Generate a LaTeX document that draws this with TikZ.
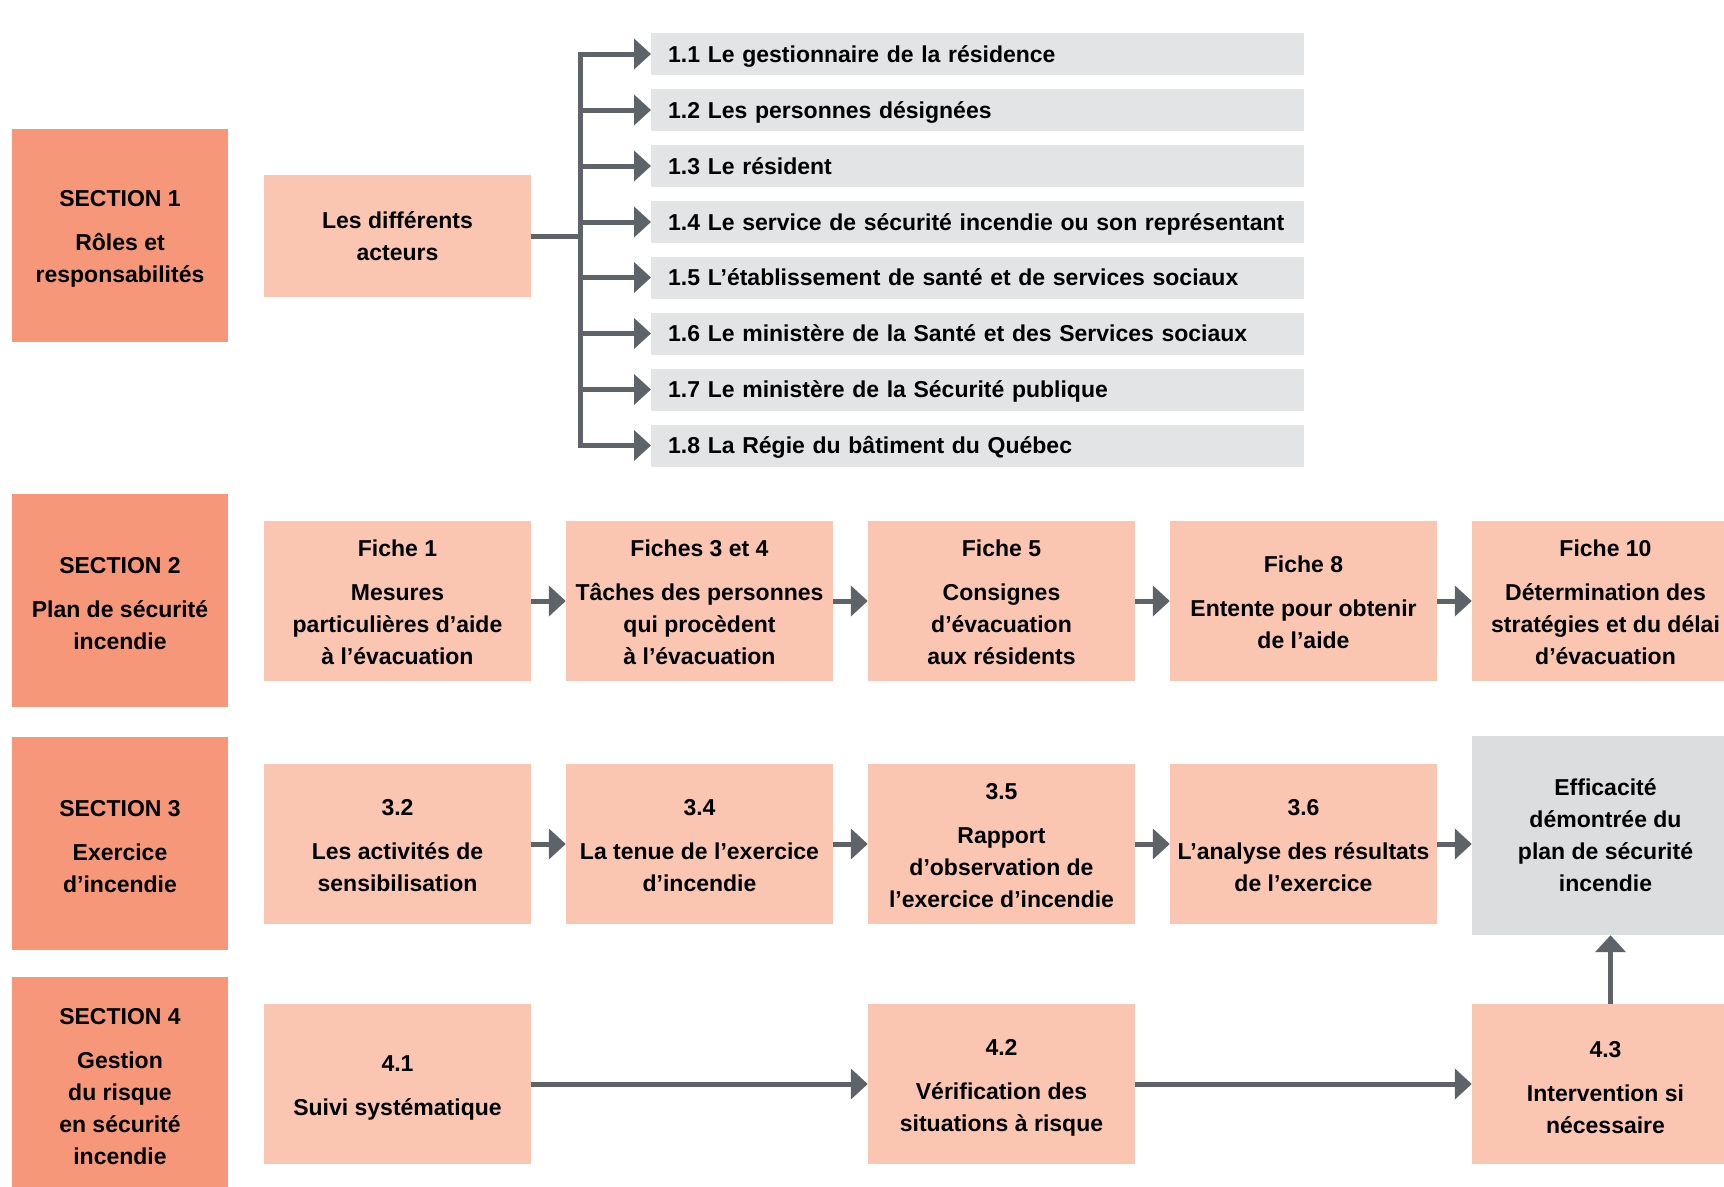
\documentclass[tikz,border=0pt]{standalone}
\usepackage{fontspec}
\setmainfont{Liberation Sans}
\usetikzlibrary{arrows.meta}
\definecolor{secC}{HTML}{F7977A}
\definecolor{boxC}{HTML}{FAC6B2}
\definecolor{listC}{HTML}{E3E4E6}
\definecolor{effC}{HTML}{DCDDDF}
\definecolor{arrC}{HTML}{5E6369}
\newcommand{\bfont}{\fontsize{23}{32}\selectfont\bfseries}
\newcommand{\padA}{\rule{0pt}{22.2pt}}
\newcommand{\padB}{\rule{0pt}{23.4pt}}
\newcommand{\padC}{\rule{0pt}{18.8pt}}
\begin{document}
\begin{tikzpicture}[x=1pt,y=-1pt,
  secbox/.style={fill=secC, minimum width=216, minimum height=213, inner sep=0, align=center, font=\bfont},
  pbox/.style={fill=boxC, minimum width=267, minimum height=160, inner sep=0, align=center, font=\bfont},
  effbox/.style={fill=effC, minimum width=267, minimum height=199, inner sep=0, align=center, font=\bfont},
  lbox/.style={fill=listC, anchor=west, minimum width=653, minimum height=42, text width=619, text height=20pt, text depth=4pt, inner xsep=17, inner ysep=0, align=left, font=\bfont},
  conn/.style={draw=arrC, line width=5pt},
  arr/.style={draw=arrC, line width=5pt, -{Triangle[length=17pt,width=30pt]}}]
\useasboundingbox (0,0) rectangle (1724,1186);
\clip (0,0) rectangle (1724,1186);
% sections
\node[secbox] (s1) at (120,235.5) {\padA SECTION 1\\[12pt]Rôles et\\responsabilités};
\node[secbox] (s2) at (120,600.5) {\padA SECTION 2\\[12pt]Plan de sécurité\\incendie};
\node[secbox] (s3) at (120,843.5) {\padA SECTION 3\\[12pt]Exercice\\d’incendie};
\node[secbox] (s4) at (120,1083.5) {\padA SECTION 4\\[12pt]Gestion\\du risque\\en sécurité\\incendie};
% row 1
\node[pbox, minimum height=122] (act) at (397.5,236) {Les différents\\acteurs};
\node[lbox] (l1) at (651,54) {1.1 Le gestionnaire de la résidence};
\node[lbox] (l2) at (651,110) {1.2 Les personnes désignées};
\node[lbox] (l3) at (651,166) {1.3 Le résident};
\node[lbox] (l4) at (651,222) {1.4 Le service de sécurité incendie ou son représentant};
\node[lbox] (l5) at (651,277.5) {1.5 L’établissement de santé et de services sociaux};
\node[lbox] (l6) at (651,333.5) {1.6 Le ministère de la Santé et des Services sociaux};
\node[lbox] (l7) at (651,389.5) {1.7 Le ministère de la Sécurité publique};
\node[lbox] (l8) at (651,445.5) {1.8 La Régie du bâtiment du Québec};
\coordinate (bus) at (580,236);
\draw[conn] (act.east) -- (bus);
\draw[conn, line cap=rect] (bus |- l1.west) -- (bus |- l8.west);
\foreach \i in {1,...,8} \draw[arr] (bus |- l\i.west) -- (l\i.west);
% row 2
\node[pbox] (f1) at (397.5,601) {\padC Fiche 1\\[12pt]Mesures\\particulières d’aide\\à l’évacuation};
\node[pbox] (f2) at (699.5,601) {\padC Fiches 3 et 4\\[12pt]Tâches des personnes\\qui procèdent\\à l’évacuation};
\node[pbox] (f3) at (1001.5,601) {\padC Fiche 5\\[12pt]Consignes\\d’évacuation\\aux résidents};
\node[pbox] (f4) at (1303.5,601) {\padC Fiche 8\\[12pt]Entente pour obtenir\\de l’aide};
\node[pbox] (f5) at (1605.5,601) {\padC Fiche 10\\[12pt]Détermination des\\stratégies et du délai\\d’évacuation};
\draw[arr] (f1.east) -- (f2.west);
\draw[arr] (f2.east) -- (f3.west);
\draw[arr] (f3.east) -- (f4.west);
\draw[arr] (f4.east) -- (f5.west);
% row 3
\node[pbox] (e1) at (397.5,844) {\padC 3.2\\[12pt]Les activités de\\sensibilisation};
\node[pbox] (e2) at (699.5,844) {\padC 3.4\\[12pt]La tenue de l’exercice\\d’incendie};
\node[pbox] (e3) at (1001.5,844) {\padC 3.5\\[12pt]Rapport\\d’observation de\\l’exercice d’incendie};
\node[pbox] (e4) at (1303.5,844) {\padC 3.6\\[12pt]L’analyse des résultats\\de l’exercice};
\node[effbox] (eff) at (1605.5,835.5) {Efficacité\\démontrée du\\plan de sécurité\\incendie};
\draw[arr] (e1.east) -- (e2.west);
\draw[arr] (e2.east) -- (e3.west);
\draw[arr] (e3.east) -- (e4.west);
\draw[arr] (e4.east) -- (e4.east -| eff.west);
% row 4
\node[pbox] (g1) at (397.5,1084) {\padB 4.1\\[12pt]Suivi systématique};
\node[pbox] (g2) at (1001.5,1084) {\padB 4.2\\[12pt]Vérification des\\situations à risque};
\node[pbox] (g3) at (1605.5,1084) {\padB 4.3\\[12pt]Intervention si\\nécessaire};
\draw[arr] (g1.east) -- (g2.west);
\draw[arr] (g2.east) -- (g3.west);
\draw[arr] ([xshift=5pt]g3.north) -- ([xshift=5pt]eff.south);
\end{tikzpicture}
\end{document}
